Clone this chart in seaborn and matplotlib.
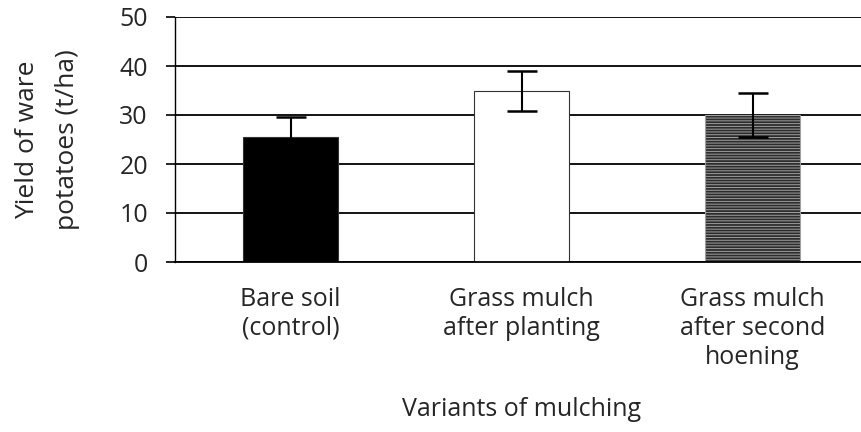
import numpy as np
import pandas as pd
import matplotlib
matplotlib.use('Agg')
import matplotlib.pyplot as plt
import seaborn as sns

# values
variants = ['Bare soil\n(control)', 'Grass mulch\nafter planting', 'Grass mulch\nafter second\nhoening']
yields = [25.5, 34.9, 30.0]
errors = [4.1, 4.0, 4.5]
colours = ['#000000', '#ffffff', '#2c2c2c']
y_ticks = [0, 10, 20, 30, 40, 50]

df = pd.DataFrame({'variant': variants, 'yield': yields})

sns.set_style('white')
plt.rcParams['font.family'] = ['Open Sans', 'DejaVu Sans']
plt.rcParams['hatch.linewidth'] = 0.7

fig = plt.figure(figsize=(8.61, 4.32), dpi=100)
# axes run past the right edge of the picture, as in the reference
ax = fig.add_axes([175 / 861, 1 - 262 / 432, (868 - 175) / 861, (262 - 17) / 432])

sns.barplot(data=df, x='variant', y='yield', hue='variant', palette=colours,
            width=0.41, edgecolor='#333333', linewidth=0.8, legend=False, ax=ax)

# textured grey bar
ax.patches[2].set_hatch('------')
ax.patches[2].set_edgecolor('#a0a0a0')

pos = np.arange(len(variants))
ax.errorbar(pos, yields, yerr=errors, fmt='none', ecolor='black',
            elinewidth=1.5, capsize=11, capthick=1.8, zorder=5)

ax.set_xlim(-0.5, 2.5)
ax.set_ylim(0, 50)
ax.set_yticks(y_ticks)
ax.set_xticks(np.arange(-0.5, 3.0, 1.0), minor=True)
ax.tick_params(axis='x', which='major', length=0, pad=18, labelsize=18)
ax.tick_params(axis='x', which='minor', length=7, width=0.8, direction='out', color='black')
ax.tick_params(axis='y', length=6.5, width=1.2, pad=13, labelsize=18, color='black', left=True)

ax.yaxis.grid(True, color='black', linewidth=1.3)
ax.set_axisbelow(True)
for s in ['top', 'right']:
    ax.spines[s].set_visible(False)
ax.spines['left'].set_color('black')
ax.spines['left'].set_linewidth(1.0)
ax.spines['bottom'].set_color('black')
ax.spines['bottom'].set_linewidth(1.3)

ax.set_xlabel('Variants of mulching', fontsize=18, labelpad=20)
ax.set_ylabel('Yield of ware\npotatoes (t/ha)', fontsize=19, labelpad=28, linespacing=1.8)

fig.savefig('out.png', dpi=100)
